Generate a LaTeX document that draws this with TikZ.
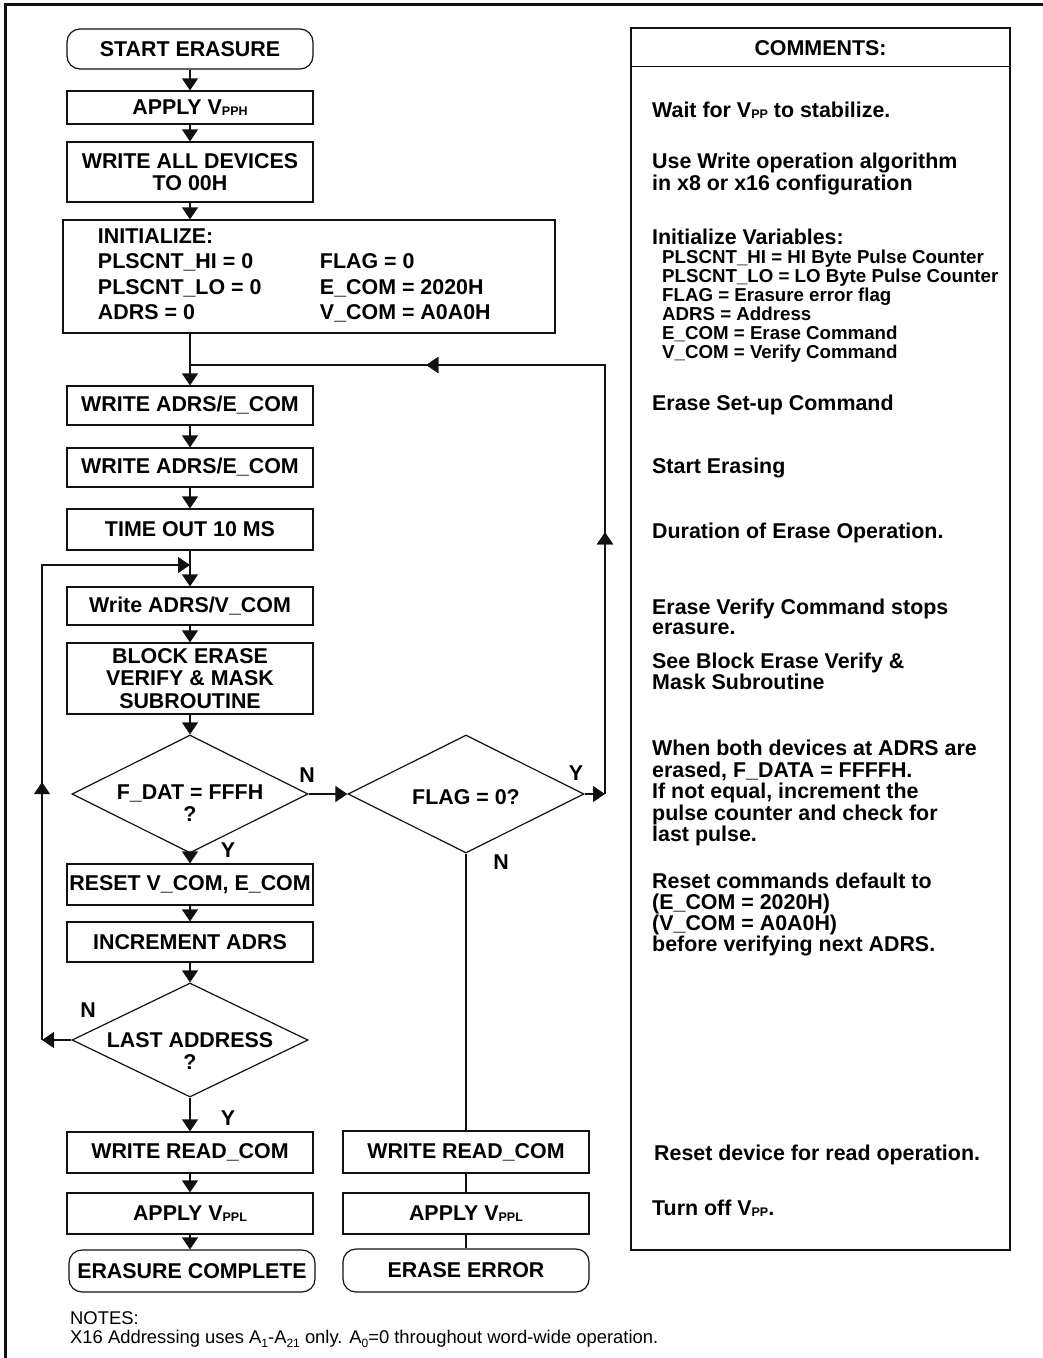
\documentclass[tikz,border=0pt]{standalone}
\usepackage{fontspec}
\setmainfont{Liberation Sans}
\usepackage{tikz}
\usepackage{xcolor}
\usetikzlibrary{arrows.meta,positioning,shapes,calc,decorations.markings}
\definecolor{ink}{HTML}{111111}
\newcommand{\boxfont}{\fontsize{21.4}{22}\selectfont\bfseries}
\newcommand{\varfont}{\fontsize{18.7}{18.9}\selectfont\bfseries}
\newcommand{\notefont}{\fontsize{18.4}{21}\selectfont}
\newcommand{\lowsub}[1]{\raisebox{-1.5pt}{\fontsize{12.5}{12.5}\selectfont #1}}
\newcommand{\notesub}[1]{\raisebox{-4pt}{\fontsize{12}{12}\selectfont #1}}
\tikzset{
  flowbox/.style={draw=ink,line width=1.2pt,
                  minimum width=246pt,minimum height=40pt,
                  inner sep=0pt,align=center,font=\boxfont},
  termbox/.style={flowbox,rounded corners=13pt},
  initbox/.style={draw=ink,line width=1.2pt,inner sep=0pt,font=\boxfont,
                  minimum width=492pt,minimum height=113pt},
  decision/.style={draw=ink,line width=1.2pt,diamond,aspect=2,inner sep=0pt,
                   minimum width=236pt,minimum height=118pt},
  dectext/.style={align=center,font=\boxfont,inner sep=0pt},
  yn/.style={font=\boxfont,inner sep=0pt},
  comment/.style={anchor=west,align=left,inner sep=0pt,font=\boxfont},
  flowarr/.style={-{Triangle[length=12pt,width=16pt]},line width=1.2pt,draw=ink},
  plain/.style={line width=1.2pt,draw=ink},
  midarr/.style={postaction={decorate},
                 decoration={markings,mark=at position #1 with
                   {\arrow{Triangle[length=12pt,width=16pt]}}}}
}

\begin{document}
\begin{tikzpicture}[x=1pt,y=-1pt,>=Latex]
  \useasboundingbox (0,0) rectangle (1043,1358);
  \draw[line width=3pt,ink] (5,1358) -- (5,4) -- (1043,4);

  % main column
  \node[termbox] (start) at (190,49) {START ERASURE};
  \node[flowbox,minimum height=33pt] (vpph) at (190,107.5) {APPLY V\lowsub{PPH}};
  \node[flowbox,minimum height=60pt] (wall) at (190,172) {WRITE ALL DEVICES\\TO 00H};
  \node[initbox] (init) at (309,276.5)
    {\renewcommand{\arraystretch}{1.16}%
     \begin{tabular}{@{\hspace{35pt}}p{222pt}@{}p{235pt}@{}}
       INITIALIZE: & \\
       PLSCNT\_HI = 0 & FLAG = 0\\
       PLSCNT\_LO = 0 & E\_COM = 2020H\\
       ADRS = 0 & V\_COM = A0A0H
     \end{tabular}};
  \node[flowbox,minimum height=39pt] (ecomA) at (190,405.5) {WRITE ADRS/E\_COM};
  \node[flowbox,minimum height=39pt] (ecomB) at (190,467.5) {WRITE ADRS/E\_COM};
  \node[flowbox,minimum height=41pt] (tout) at (190,529.5) {TIME OUT 10 MS};
  \node[flowbox,minimum height=38pt] (vcom) at (190,606) {Write ADRS/V\_COM};
  \node[flowbox,minimum height=71pt,font=\fontsize{21.4}{22.5}\selectfont\bfseries]
    (block) at (190,678.5) {BLOCK ERASE\\VERIFY \& MASK\\SUBROUTINE};
  \node[decision] (fdat) at (190,794) {};
  \node[dectext] (fdattxt) at ($(fdat)+(0,9)$) {F\_DAT = FFFH\\?};
  \node[decision] (flag) at (466,794) {};
  \node[dectext] (flagtxt) at ($(flag)+(0,3)$) {FLAG = 0?};
  \node[flowbox,minimum height=41pt] (reset) at (190,884.5) {RESET V\_COM, E\_COM};
  \node[flowbox] (incr) at (190,942) {INCREMENT ADRS};
  \node[decision,minimum height=114pt] (last) at (190,1040) {};
  \node[dectext] (lasttxt) at ($(last)+(0,11)$) {LAST ADDRESS\\?};
  \node[flowbox,minimum height=41pt] (rdA) at (190,1152.5) {WRITE READ\_COM};
  \node[flowbox,minimum height=41pt] (vpplA) at (190,1213.5) {APPLY V\lowsub{PPL}};
  \node[termbox,minimum height=42pt] (done) at (192,1271) {ERASURE COMPLETE};

  % error column
  \node[flowbox,minimum height=42pt] (rdB) at (466,1152) {WRITE READ\_COM};
  \node[flowbox,minimum height=41pt] (vpplB) at (466,1213.5) {APPLY V\lowsub{PPL}};
  \node[termbox,minimum height=43pt] (err) at (466,1270.5) {ERASE ERROR};

  \coordinate (jtop) at (190,365);
  \coordinate (ytop) at (605,365);
  \coordinate (yturn) at (605,794);
  \coordinate (jmid) at (190,565);
  \coordinate (ntop) at (42,565);
  \coordinate (nleft) at (42,1040);

  \draw[flowarr] (start) -- (vpph);
  \draw[flowarr] (vpph) -- (wall);
  \draw[flowarr] (wall) -- (init.north -| wall);
  \draw[flowarr] (init.south -| ecomA) -- (ecomA);
  \draw[flowarr] (ecomA) -- (ecomB);
  \draw[flowarr] (ecomB) -- (tout);
  \draw[flowarr] (tout) -- (vcom);
  \draw[flowarr] (vcom) -- (block);
  \draw[flowarr] (block) -- (fdat.north);
  \draw[flowarr] (fdat.south) -- (reset);
  \draw[flowarr] (fdat.east) -- (flag.west);
  \draw[flowarr] (flag.east) -- (yturn);
  \draw[plain,midarr=0.31,midarr=0.72] (yturn) -- (ytop) -- (jtop);
  \draw[flowarr] (reset) -- (incr);
  \draw[flowarr] (incr) -- (last.north);
  \draw[flowarr] (last.west) -- (nleft);
  \draw[flowarr,midarr=0.414] (nleft) -- (ntop) -- (jmid);
  \draw[flowarr] (last.south) -- (rdA);
  \draw[flowarr] (rdA) -- (vpplA);
  \draw[flowarr] (vpplA) -- (done.north -| vpplA);
  \draw[plain] (flag.south) -- (rdB);
  \draw[plain] (rdB) -- (vpplB);
  \draw[plain] (vpplB) -- (err);

  \node[yn] (nfdat) at (307,775) {N};
  \node[yn] (yflag) at (576,773) {Y};
  \node[yn] (yfdat) at (228,850) {Y};
  \node[yn] (nflag) at (501,862) {N};
  \node[yn] (nlast) at (88,1010) {N};
  \node[yn] (ylast) at (228,1118) {Y};

  % comments column
  \node[draw=ink,line width=1.2pt,minimum width=379pt,minimum height=1222pt,inner sep=0pt]
    (cbox) at (820.5,639) {};
  \draw[plain] ($(cbox.north west)+(0,39)$) -- ($(cbox.north east)+(0,39)$);
  \node[font=\boxfont] (chead) at (820.5,48) {COMMENTS:};
  \node[comment] (c1) at (652,110) {Wait for V\lowsub{PP} to stabilize.};
  \node[comment] (c2) at (652,174) {Use Write operation algorithm\\in x8 or x16 configuration};
  \node[comment] (c3) at (652,237) {Initialize Variables:};
  \node[comment,font=\varfont] (c3v) at (662,306)
    {PLSCNT\_HI = HI Byte Pulse Counter\\PLSCNT\_LO = LO Byte Pulse Counter\\
     FLAG = Erasure error flag\\ADRS = Address\\E\_COM = Erase Command\\V\_COM = Verify Command};
  \node[comment] (c4) at (652,405) {Erase Set-up Command};
  \node[comment] (c5) at (652,468) {Start Erasing};
  \node[comment] (c6) at (652,533) {Duration of Erase Operation.};
  \node[comment,font=\fontsize{21.4}{20}\selectfont\bfseries] (c7) at (652,617)
    {Erase Verify Command stops\\erasure.};
  \node[comment,font=\fontsize{21.4}{21}\selectfont\bfseries] (c8) at (652,671.5)
    {See Block Erase Verify \&\\Mask Subroutine};
  \node[comment,font=\fontsize{21.4}{21.5}\selectfont\bfseries] (c9) at (652,793)
    {When both devices at ADRS are\\erased, F\_DATA = FFFFH.\\If not equal, increment the\\
     pulse counter and check for\\last pulse.};
  \node[comment,font=\fontsize{21.4}{20.7}\selectfont\bfseries] (c10) at (652,914.5)
    {Reset commands default to\\(E\_COM = 2020H)\\(V\_COM = A0A0H)\\before verifying next ADRS.};
  \node[comment] (c11) at (654,1155) {Reset device for read operation.};
  \node[comment] (c12) at (652,1208) {Turn off V\lowsub{PP}.};

  % notes
  \node[anchor=west,inner sep=0pt,font=\notefont] (notes) at (70,1318) {NOTES:};
  \node[anchor=west,inner sep=0pt,font=\notefont] (notetext) at (70,1339)
    {X16 Addressing uses A\notesub{1}-A\notesub{21} only.
     A\notesub{0}=0 throughout word-wide operation.};
\end{tikzpicture}
\end{document}
